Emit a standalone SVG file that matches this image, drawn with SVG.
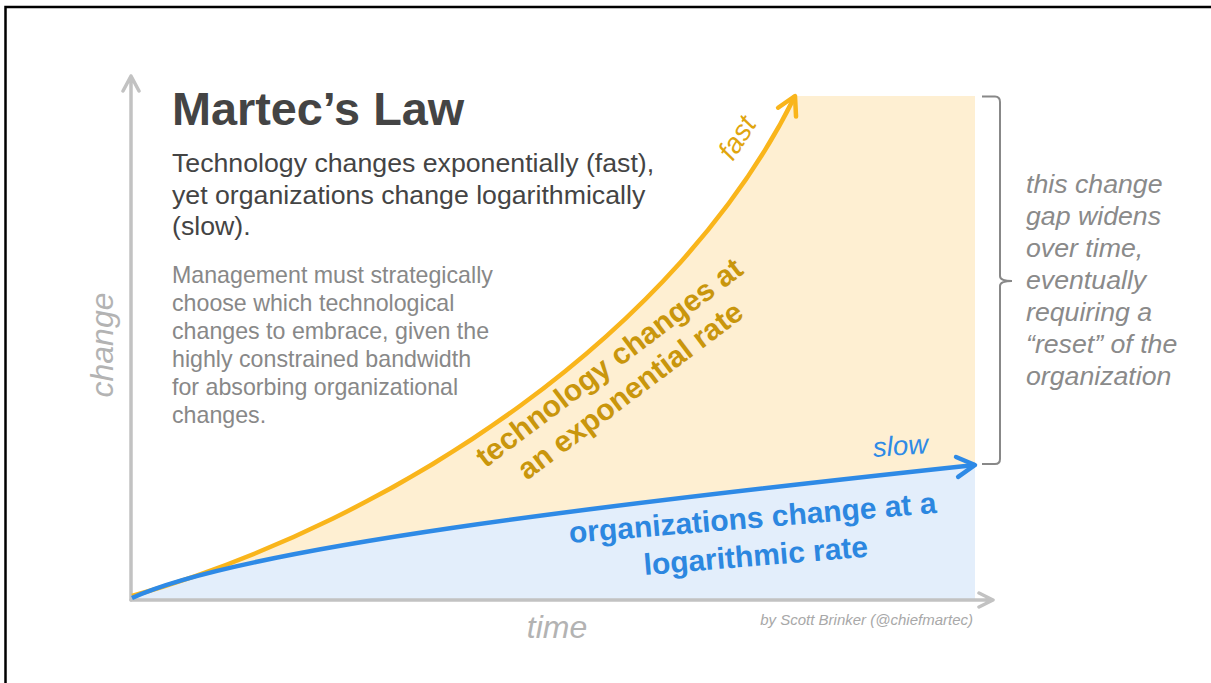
<svg xmlns="http://www.w3.org/2000/svg" width="1211" height="683" viewBox="0 0 1211 683">
<style>
text{font-family:"Liberation Sans",Arial,sans-serif}
.ttl{font-size:46.8px;font-weight:bold;fill:#444}
.sub{font-size:26.7px;fill:#444}
.par{font-size:23.2px;fill:#888}
.axl{font-size:32px;font-style:italic;fill:#b3b3b3}
.gap{font-size:26.7px;font-style:italic;fill:#8a8a8a}
.tech{font-size:30px;font-weight:bold;fill:#c9960c}
.org{font-size:30px;font-weight:bold;fill:#2c87e0}
.axis{fill:none;stroke:#c2c2c2;stroke-width:3.5;stroke-linecap:round;stroke-linejoin:round}
</style>
<defs>
<marker id="arrY" markerUnits="userSpaceOnUse" markerWidth="40" markerHeight="40" viewBox="-20 -20 40 40" refX="0" refY="0" orient="auto" overflow="visible">
<path d="M-18,-10 L0,0 L-18,10" fill="none" stroke="#f9b51b" stroke-width="4.5" stroke-linecap="round" stroke-linejoin="round"/>
</marker>
<marker id="arrB" markerUnits="userSpaceOnUse" markerWidth="40" markerHeight="40" viewBox="-20 -20 40 40" refX="0" refY="0" orient="auto" overflow="visible">
<path d="M-18,-10 L0,0 L-18,10" fill="none" stroke="#2e8ae6" stroke-width="4.5" stroke-linecap="round" stroke-linejoin="round"/>
</marker>
</defs>
<rect width="1211" height="683" fill="#fff"/>
<path d="M5.5,683 V7 H1211" fill="none" stroke="#000" stroke-width="2.5"/>

<g id="areas">
<path d="M132,596 C400,520 680,330 795,96 L975,96 L975,465 C600,505 240,548 132,598 Z" fill="#feefd2"/>
<path d="M132,598 C240,548 600,505 975,465 L975,600 L132,600 Z" fill="#e3eefb"/>
</g>

<g id="axes">
<path class="axis" d="M131,600 V76 M123,91 L131,76 L139,91"/>
<path class="axis" d="M131,600 H992 M979,593 L993,600 L979,607"/>
<text class="axl" transform="translate(113,345) rotate(-90)" text-anchor="middle">change</text>
<text class="axl" x="557" y="638" text-anchor="middle">time</text>
</g>

<g id="connectors">
<path d="M132,596 C400,520 680,330 795,96" fill="none" stroke="#f9b51b" stroke-width="4.5" marker-end="url(#arrY)"/>
<path d="M132,598 C240,548 600,505 975,465" fill="none" stroke="#2e8ae6" stroke-width="4.5" marker-end="url(#arrB)"/>
</g>

<g id="title">
<text class="ttl" x="172" y="125">Martec’s Law</text>
<text class="sub" x="172" y="172">Technology changes exponentially (fast),</text>
<text class="sub" x="172" y="203.5">yet organizations change logarithmically</text>
<text class="sub" x="172" y="235">(slow).</text>
</g>

<g id="management">
<text class="par" x="172" y="283">Management must strategically</text>
<text class="par" x="172" y="311">choose which technological</text>
<text class="par" x="172" y="339">changes to embrace, given the</text>
<text class="par" x="172" y="367">highly constrained bandwidth</text>
<text class="par" x="172" y="395">for absorbing organizational</text>
<text class="par" x="172" y="423">changes.</text>
</g>

<g id="fast">
<text transform="translate(745,143) rotate(-57)" text-anchor="middle" style="font-size:28px;font-style:italic;fill:#e0a50e">fast</text>
</g>

<g id="slow">
<text transform="translate(901,455) rotate(-4)" text-anchor="middle" style="font-size:27.5px;font-style:italic;fill:#2e8ae6">slow</text>
</g>

<g id="tech-label">
<g transform="translate(620,377) rotate(-37)">
<text class="tech" x="0" y="-8" text-anchor="middle">technology changes at</text>
<text class="tech" x="0" y="27" text-anchor="middle">an exponential rate</text>
</g>
</g>

<g id="org-label">
<g transform="translate(754,535) rotate(-4.7)">
<text class="org" x="0" y="-7" text-anchor="middle">organizations change at a</text>
<text class="org" x="0" y="31" text-anchor="middle">logarithmic rate</text>
</g>
</g>

<g id="gap">
<path d="M982,96.5 H995 Q1000,96.5 1000,102 V276 Q1000,281 1012,281 Q1000,281 1000,286 V459 Q1000,464 995,464 H982" fill="none" stroke="#888" stroke-width="2"/>
<text class="gap" x="1026" y="193">this change</text>
<text class="gap" x="1026" y="225">gap widens</text>
<text class="gap" x="1026" y="257">over time,</text>
<text class="gap" x="1026" y="289">eventually</text>
<text class="gap" x="1026" y="321">requiring a</text>
<text class="gap" x="1026" y="353">“reset” of the</text>
<text class="gap" x="1026" y="385">organization</text>
</g>

<g id="credit">
<text x="973" y="625" text-anchor="end" style="font-size:15px;font-style:italic;fill:#a8a8a8">by Scott Brinker (@chiefmartec)</text>
</g>
</svg>
